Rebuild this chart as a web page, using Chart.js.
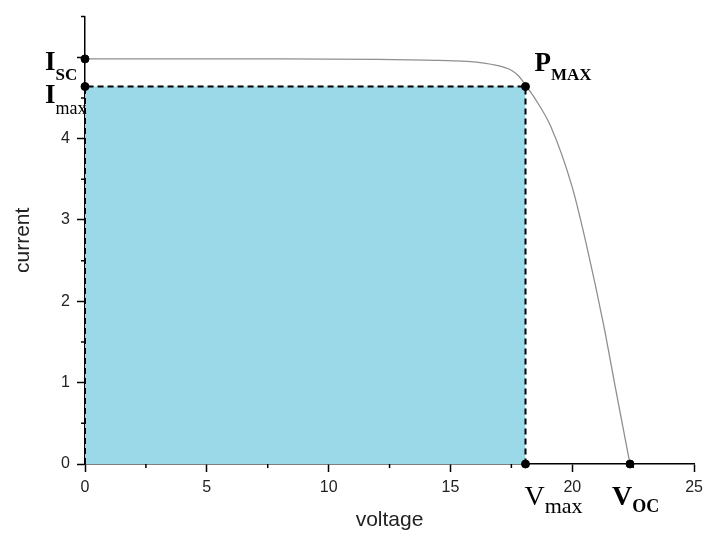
<!DOCTYPE html>
<html lang="en">

<head>
    <meta charset="UTF-8">
    <title>I-V curve</title>
    <script src="https://cdn.jsdelivr.net/npm/chart.js"></script>
    <style>
        body { margin: 0; background: #fff; }
    </style>
</head>

<body>
    <canvas id="ivChart" width="709" height="533"></canvas>
    <script>
        // I-V curve
        const voltage = [0, 4, 8, 12, 14, 15.7, 16.9, 17.5, 17.8, 18.1, 18.45, 19.1, 20.0, 20.6, 21.3, 21.75, 22.37];
        const current = [4.98, 4.98, 4.98, 4.975, 4.965, 4.95, 4.9, 4.84, 4.77, 4.65, 4.5, 4.16, 3.4, 2.67, 1.69, 0.97, 0];

        const Isc = 4.98;
        const Imax = 4.64;
        const Vmax = 18.08;
        const Voc = 22.37;

        const yTickLabels = [0, 1, 2, 3, 4];
        const xTickLabels = [0, 5, 10, 15, 20, 25];

        // label: [x, y, main, sub, mainBold, subBold, mainSize, subSize, dx, dy, subDy]
        const pointLabels = [
            [0, Isc, 'I', 'SC', true, true, 27, 17, -40, 11, 10],
            [0, Imax, 'I', 'max', true, false, 27, 18, -40, 16, 11],
            [Vmax, Imax, 'P', 'MAX', true, true, 27, 17, 9, -16, 9],
            [Vmax, 0, 'V', 'max', false, false, 28, 22, -1, 41, 8],
            [Voc, 0, 'V', 'OC', true, true, 28, 18, -18, 41, 7]
        ];

        const curveData = voltage.map((v, i) => ({ x: v, y: current[i] }));
        const rectData = [{ x: 0, y: 0 }, { x: 0, y: Imax }, { x: Vmax, y: Imax }, { x: Vmax, y: 0 }];
        const dotData = [{ x: 0, y: Isc }, { x: 0, y: Imax }, { x: Vmax, y: Imax }, { x: Vmax, y: 0 }, { x: Voc, y: 0 }];

        const minorTicks = {
            id: 'minorTicks',
            afterDatasetsDraw(chart) {
                const ctx = chart.ctx;
                const xs = chart.scales.x, ys = chart.scales.y;
                ctx.save();
                ctx.strokeStyle = '#000';
                ctx.lineWidth = 1.5;
                ctx.beginPath();
                for (let v = 0.5; v <= 5.5; v += 1) {
                    const p = ys.getPixelForValue(v);
                    ctx.moveTo(xs.left - 4, p);
                    ctx.lineTo(xs.left, p);
                }
                for (let v = 2.5; v < 25; v += 5) {
                    const p = xs.getPixelForValue(v);
                    ctx.moveTo(p, ys.bottom);
                    ctx.lineTo(p, ys.bottom + 4);
                }
                ctx.stroke();

                // point labels
                ctx.fillStyle = '#000';
                ctx.textBaseline = 'alphabetic';
                ctx.textAlign = 'left';
                pointLabels.forEach(l => {
                    const px = xs.getPixelForValue(l[0]) + l[8];
                    const py = ys.getPixelForValue(l[1]) + l[9];
                    ctx.font = (l[4] ? 'bold ' : '') + l[6] + 'px "Liberation Serif", "Times New Roman", serif';
                    ctx.fillText(l[2], px, py);
                    const w = ctx.measureText(l[2]).width;
                    ctx.font = (l[5] ? 'bold ' : '') + l[7] + 'px "Liberation Serif", "Times New Roman", serif';
                    ctx.fillText(l[3], px + w, py + l[10]);
                });
                ctx.restore();
            }
        };

        const ctx = document.getElementById('ivChart').getContext('2d');
        new Chart(ctx, {
            type: 'line',
            data: {
                datasets: [
                    {
                        data: dotData,
                        showLine: false,
                        pointRadius: 4,
                        pointBackgroundColor: '#000',
                        pointBorderColor: '#000',
                        clip: false,
                        order: 1
                    },
                    {
                        data: curveData,
                        borderColor: '#8f8f8f',
                        borderWidth: 1.3,
                        pointRadius: 0,
                        cubicInterpolationMode: 'monotone',
                        fill: false,
                        order: 2
                    },
                    {
                        data: rectData,
                        borderColor: '#000',
                        borderWidth: 2,
                        borderDash: [6, 4],
                        backgroundColor: 'rgb(155, 217, 232)',
                        pointRadius: 0,
                        fill: 'origin',
                        tension: 0,
                        clip: false,
                        order: 3
                    }
                ]
            },
            options: {
                responsive: false,
                animation: false,
                layout: { padding: { top: 15, right: 11, left: 0, bottom: 0 } },
                plugins: {
                    legend: { display: false },
                    tooltip: { enabled: false }
                },
                scales: {
                    x: {
                        type: 'linear',
                        min: 0,
                        max: 25,
                        afterFit: s => { s.height = 69; },
                        border: { color: '#000', width: 1.5 },
                        grid: {
                            drawOnChartArea: false,
                            tickLength: 8,
                            tickWidth: 1.5,
                            tickColor: c => (xTickLabels.includes(c.tick.value) ? '#000' : 'transparent')
                        },
                        ticks: {
                            stepSize: 2.5,
                            autoSkip: false,
                            maxRotation: 0,
                            padding: 6,
                            color: '#222',
                            font: { family: '"Liberation Sans", Arial, sans-serif', size: 16 },
                            callback: v => (xTickLabels.includes(v) ? String(v) : '')
                        },
                        title: {
                            display: true,
                            text: 'voltage',
                            color: '#222',
                            padding: { top: 0, bottom: 0 },
                            font: { family: '"Liberation Sans", Arial, sans-serif', size: 21, lineHeight: 1.2 }
                        }
                    },
                    y: {
                        min: 0,
                        max: 5.5,
                        afterFit: s => { s.width = 85; },
                        border: { color: '#000', width: 1.5 },
                        grid: {
                            drawOnChartArea: false,
                            tickLength: 8,
                            tickWidth: 1.5,
                            tickColor: c => (c.tick.value % 1 === 0 ? '#000' : 'transparent')
                        },
                        ticks: {
                            stepSize: 0.5,
                            autoSkip: false,
                            padding: 7,
                            color: '#222',
                            font: { family: '"Liberation Sans", Arial, sans-serif', size: 16 },
                            callback: v => (yTickLabels.includes(v) ? String(v) : '')
                        },
                        title: {
                            display: true,
                            text: 'current',
                            color: '#222',
                            padding: { top: 11, bottom: 0 },
                            font: { family: '"Liberation Sans", Arial, sans-serif', size: 21, lineHeight: 1.2 }
                        }
                    }
                }
            },
            plugins: [minorTicks]
        });
    </script>
</body>

</html>
